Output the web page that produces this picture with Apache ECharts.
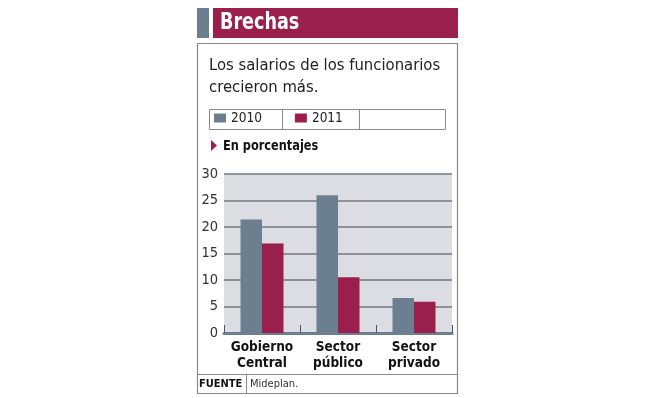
<!DOCTYPE html>
<html>
<head>
<meta charset="utf-8">
<script src="https://cdn.jsdelivr.net/npm/echarts@6/dist/echarts.min.js"></script>
<style>
  html, body { margin: 0; padding: 0; background: #fff; }
  #chart { width: 653px; height: 398px; }
</style>
</head>
<body>
<div id="chart"></div>
<script>
// data
var categories = ['Gobierno\nCentral', 'Sector\npúblico', 'Sector\nprivado'];
var values2010 = [21.4, 26.0, 6.6];
var values2011 = [16.9, 10.5, 5.9];
var yTicks = { min: 0, max: 30, interval: 5 };

var SLATE = '#6c7f91';
var CRIMSON = '#9a1f4a';
var FONT = '"DejaVu Sans Condensed", "Liberation Sans Narrow", Roboto, sans-serif';

var chart = echarts.init(document.getElementById('chart'), null, { renderer: 'canvas' });

var option = {
    animation: false,
    backgroundColor: '#fff',
    textStyle: { fontFamily: FONT },
    legend: {
        left: 214,
        top: 111,
        padding: 0,
        itemWidth: 12,
        itemHeight: 9,
        itemGap: 33,
        icon: 'rect',
        textStyle: { fontFamily: FONT, fontSize: 13.5, color: '#222' },
        data: ['2010', '2011']
    },
    grid: {
        left: 224,
        right: 201,
        top: 174,
        bottom: 65,
        show: true,
        backgroundColor: '#dcdde2',
        borderWidth: 0,
        containLabel: false
    },
    xAxis: {
        type: 'category',
        data: categories,
        axisLine: { lineStyle: { color: SLATE, width: 3 } },
        axisTick: { show: true, inside: true, length: 8, lineStyle: { color: '#555', width: 1 } },
        axisLabel: {
            interval: 0,
            fontFamily: FONT, fontSize: 13.5, fontWeight: 'bold', color: '#111',
            lineHeight: 16, margin: 6
        }
    },
    yAxis: {
        type: 'value',
        min: yTicks.min,
        max: yTicks.max,
        interval: yTicks.interval,
        axisLine: { show: false },
        axisTick: { show: false },
        axisLabel: { fontFamily: FONT, fontSize: 14.5, color: '#333', margin: 6 },
        splitLine: { lineStyle: { color: '#737982', width: 1.5 } }
    },
    series: [
        { name: '2010', type: 'bar', data: values2010, barWidth: 21.5, barGap: '0%',
          itemStyle: { color: SLATE } },
        { name: '2011', type: 'bar', data: values2011, barWidth: 21.5,
          itemStyle: { color: CRIMSON } }
    ],
    graphic: [
        // header
        { type: 'rect', shape: { x: 197, y: 8, width: 12, height: 30 }, style: { fill: SLATE } },
        { type: 'rect', shape: { x: 213, y: 8, width: 245, height: 30 }, style: { fill: CRIMSON } },
        { type: 'text', x: 220, y: 23, scaleX: 0.85,
          style: { text: 'Brechas', fill: '#fff', font: 'bold 23px ' + FONT, textVerticalAlign: 'middle' } },
        // frame
        { type: 'rect', shape: { x: 197.5, y: 43.5, width: 260, height: 350 }, style: { fill: 'none', stroke: '#8a8a8a', lineWidth: 1.2 }, z: 0 },
        // subtitle
        { type: 'text', x: 209, y: 55, style: { text: 'Los salarios de los funcionarios\ncrecieron más.', fill: '#222', font: '16.5px ' + FONT, lineHeight: 22 } },
        // legend box
        { type: 'rect', shape: { x: 209.5, y: 109.5, width: 236, height: 20 }, style: { fill: 'none', stroke: '#8a8a8a', lineWidth: 1 } },
        { type: 'line', shape: { x1: 282.5, y1: 109.5, x2: 282.5, y2: 129.5 }, style: { stroke: '#8a8a8a', lineWidth: 1 } },
        { type: 'line', shape: { x1: 359.5, y1: 109.5, x2: 359.5, y2: 129.5 }, style: { stroke: '#8a8a8a', lineWidth: 1 } },
        // unit note
        { type: 'polygon', shape: { points: [[211, 140], [217, 145.5], [211, 151]] }, style: { fill: CRIMSON } },
        { type: 'text', x: 223, y: 146, scaleX: 0.87,
          style: { text: 'En porcentajes', fill: '#111', font: 'bold 14.5px ' + FONT, textVerticalAlign: 'middle' } },
        // footer
        { type: 'line', shape: { x1: 197.5, y1: 374.5, x2: 457.5, y2: 374.5 }, style: { stroke: '#8a8a8a', lineWidth: 1 } },
        { type: 'line', shape: { x1: 246.5, y1: 374.5, x2: 246.5, y2: 393.5 }, style: { stroke: '#8a8a8a', lineWidth: 1 } },
        { type: 'text', x: 199, y: 384, style: { text: 'FUENTE', fill: '#111', font: 'bold 11px ' + FONT, textVerticalAlign: 'middle' } },
        { type: 'text', x: 250, y: 384, style: { text: 'Mideplan.', fill: '#333', font: '11px ' + FONT, textVerticalAlign: 'middle' } }
    ]
};

chart.setOption(option);
</script>
</body>
</html>
